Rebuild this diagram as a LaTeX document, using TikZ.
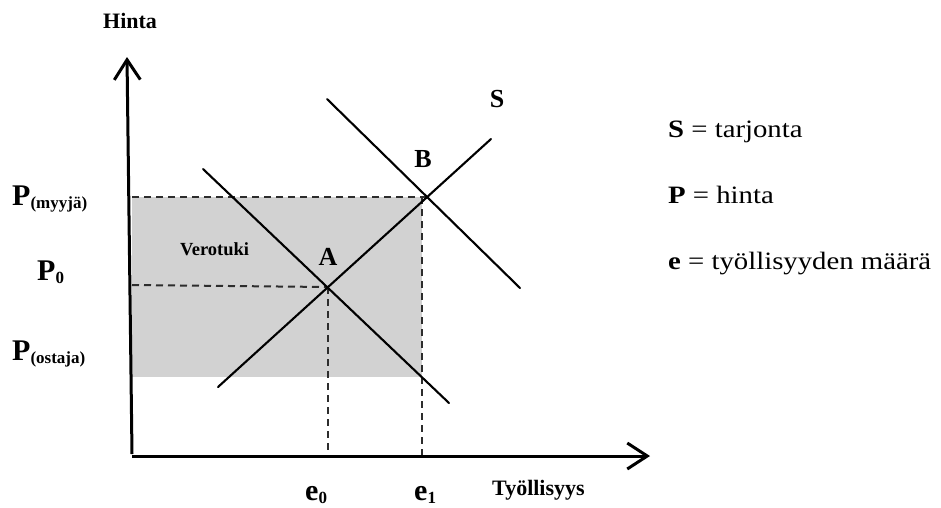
\documentclass[tikz,border=0pt]{standalone}
\usepackage{fontspec}
\setmainfont{Liberation Serif}
\newfontfamily\legendfont[FakeStretch=1.15]{Liberation Serif}
\usetikzlibrary{arrows.meta}
\definecolor{tukigrey}{RGB}{210,210,210}
\definecolor{guidegrey}{RGB}{45,45,45}

\begin{document}
\begin{tikzpicture}[line cap=round,line join=round,x=1pt,y=-1pt,
	axis/.style={line width=3pt,line cap=butt,-{Straight Barb[length=20pt,width=26pt,line width=3pt]}},
	curve/.style={line width=2.1pt},
	guide/.style={line width=2pt,line cap=butt,dash pattern=on 7pt off 5pt,color=guidegrey},
	lbl/.style={inner sep=0pt,anchor=base,font=\bfseries\fontsize{26}{26}\selectfont},
	big/.style={inner sep=0pt,anchor=base west,font=\bfseries\fontsize{30}{30}\selectfont},
	small/.style={inner sep=0pt,anchor=base west,font=\bfseries\fontsize{22}{22}\selectfont},
	legend/.style={inner sep=0pt,anchor=base west,font=\legendfont\fontsize{25}{25}\selectfont}]
	\useasboundingbox (0,0) rectangle (941,507);
	% pisteet
	\coordinate (O) at (132,456);
	\coordinate (A) at (328,287);
	\coordinate (B) at (427,197);
	\coordinate (C) at (422,377);
	% verotuki
	\fill[tukigrey] (132,197) rectangle (C);
	\draw[guide] (132,197) -- (B);
	\draw[guide] (132,285) -- (A);
	\draw[guide] (A) -- (328,456);
	\draw[guide] (422,197) -- (422,456);
	% kayrat
	\draw[curve] (218,387) -- (491,139);
	\draw[curve] (203,169) -- (449,403);
	\draw[curve] (327,99) -- (520,288);
	% akselit
	\draw[axis] (132,454) -- (127,57);
	\draw[axis] (O) -- (650,456);
	% tekstit
	\node[small] (hinta) at (103,28) {Hinta};
	\node[small] (tyollisyys) at (492,495) {Työllisyys};
	\node[big] (pmyyja) at (12,205) {P\raisebox{-3pt}{\fontsize{17}{17}\selectfont(myyjä)}};
	\node[big] (pnolla) at (37,280) {P\raisebox{-3pt}{\fontsize{17}{17}\selectfont 0}};
	\node[big] (postaja) at (12,360) {P\raisebox{-3pt}{\fontsize{17}{17}\selectfont(ostaja)}};
	\node[big] (enolla) at (305,500) {e\raisebox{-3pt}{\fontsize{17}{17}\selectfont 0}};
	\node[big] (eyksi) at (414,500) {e\raisebox{-3pt}{\fontsize{17}{17}\selectfont 1}};
	\node[inner sep=0pt,anchor=base west,font=\bfseries\fontsize{18.5}{18.5}\selectfont] (verotuki) at (180,255) {Verotuki};
	\node[lbl] (alabel) at (328,265) {A};
	\node[lbl] (blabel) at (423,167) {B};
	\node[lbl] (slabel) at (497,107) {S};
	% selitteet
	\node[legend] (sel1) at (668,137) {\textbf{S} = tarjonta};
	\node[legend] (sel2) at (668,203) {\textbf{P} = hinta};
	\node[legend] (sel3) at (668,269) {\textbf{e} = työllisyyden määrä};
\end{tikzpicture}
\end{document}
